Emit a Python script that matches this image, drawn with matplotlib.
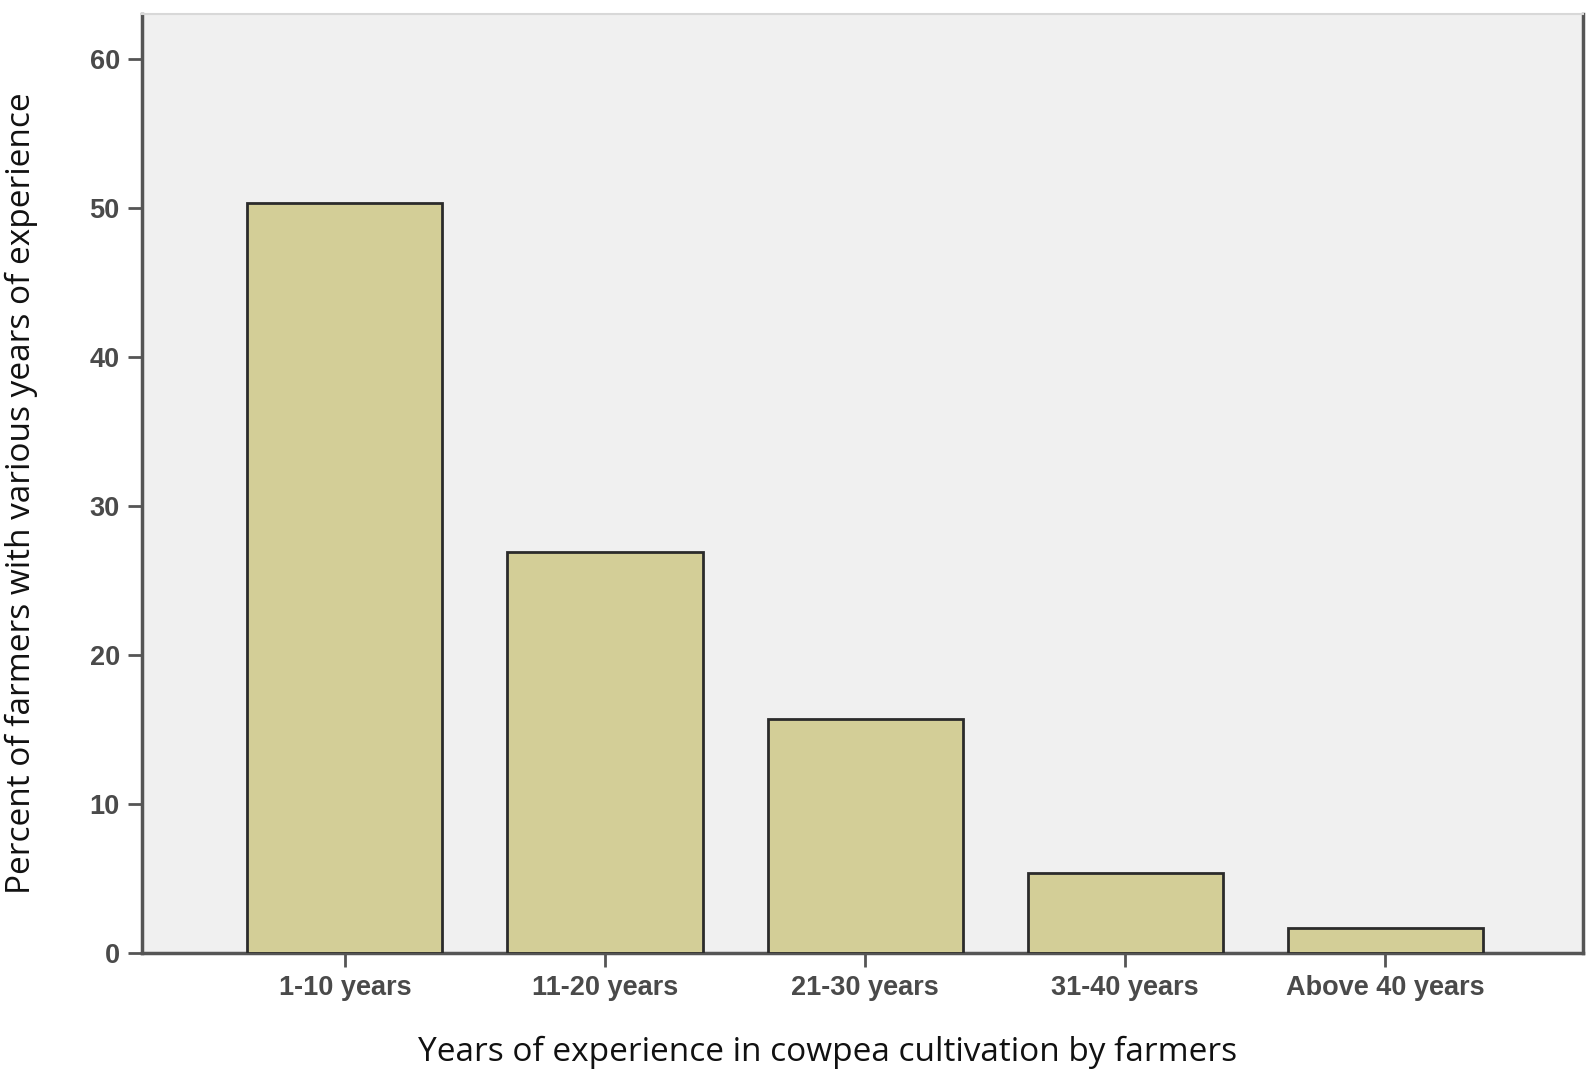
import matplotlib
matplotlib.use("Agg")
import matplotlib.pyplot as plt

categories = ["1-10 years", "11-20 years", "21-30 years", "31-40 years", "Above 40 years"]
percent = [50.3, 26.9, 15.7, 5.4, 1.7]
yticks = [0, 10, 20, 30, 40, 50, 60]

fig = plt.figure(figsize=(15.94, 10.74), dpi=100)
ax = fig.add_axes([142/1594, 1 - 953/1074, (1583-142)/1594, (953-14)/1074])
ax.set_facecolor("#f0f0f0")
x = list(range(len(categories)))
ax.bar(x, percent, width=0.75, color="#d3ce97", edgecolor="#2b2b2b", linewidth=2, zorder=3)
ax.set_xlim(-0.78, 4.76)
ax.set_ylim(0, 63)
ax.set_yticks(yticks)
ax.set_xticks(x)
ax.set_xticklabels(categories)
for lab in ax.get_xticklabels() + ax.get_yticklabels():
    lab.set_fontfamily("Liberation Sans")
    lab.set_fontsize(19.5)
    lab.set_fontweight("bold")
    lab.set_color("#4a4a4a")
ax.tick_params(axis="both", length=10, width=2, color="#555555", direction="out")
ax.tick_params(axis="x", pad=6)
ax.tick_params(axis="y", pad=6)
for s in ["left", "bottom", "right"]:
    ax.spines[s].set_color("#555555")
    ax.spines[s].set_linewidth(2.5)
ax.spines["top"].set_color("#d8d8d8")
ax.spines["top"].set_linewidth(1.5)

fig.text(828/1594, 1 - 1052/1074, "Years of experience in cowpea cultivation by farmers",
         ha="center", va="center", fontsize=24, family="Open Sans", color="#111111")
fig.text(21/1594, 1 - 493/1074, "Percent of farmers with various years of experience",
         ha="center", va="center", rotation=90, fontsize=24, family="Open Sans", color="#111111")

fig.savefig("out.png", dpi=100, facecolor="white")
